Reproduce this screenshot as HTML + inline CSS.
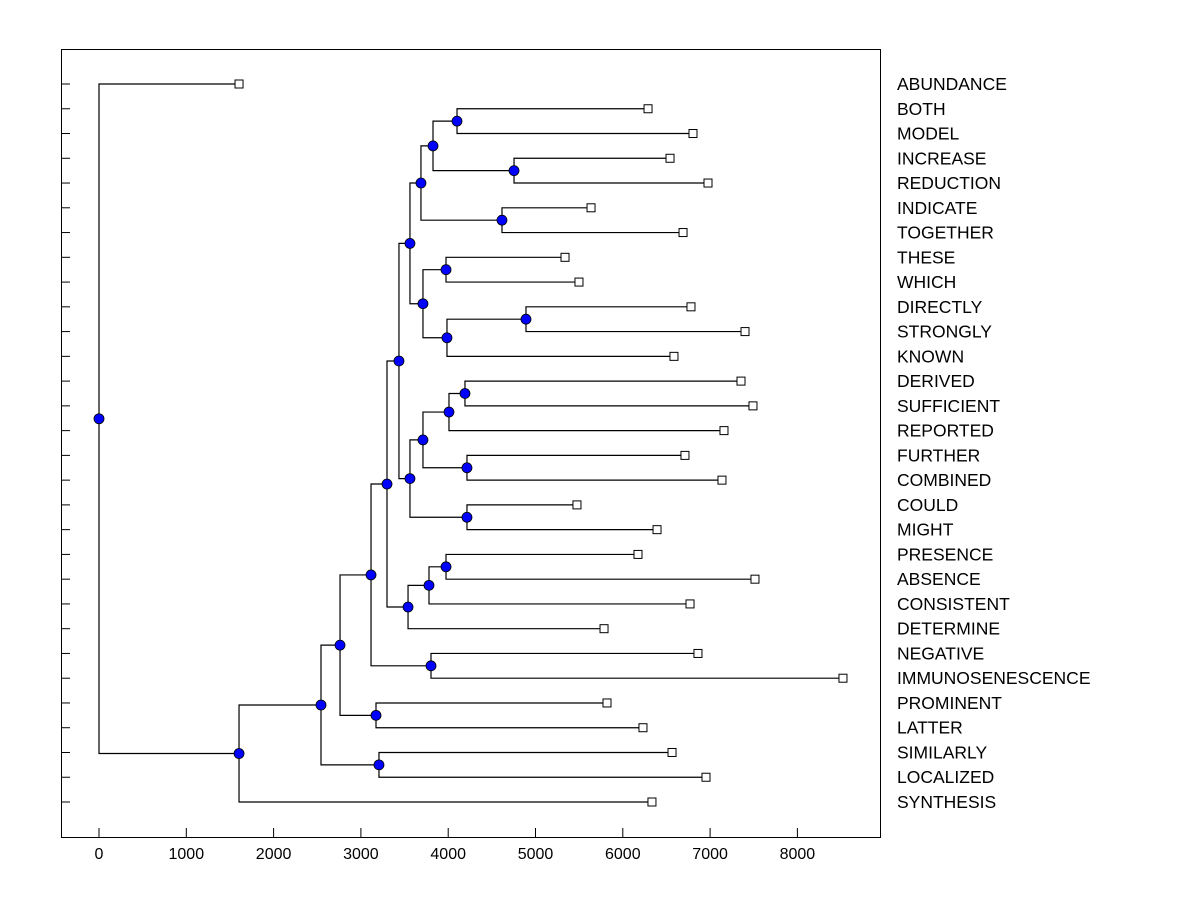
<!DOCTYPE html>
<html><head><meta charset="utf-8"><style>
html,body{margin:0;padding:0;background:#fff;}
svg text{font-family:"Liberation Sans",Arial,sans-serif;}
</style></head><body>
<svg id="chart" width="1200" height="900" viewBox="0 0 1200 900" xmlns="http://www.w3.org/2000/svg">
<rect x="0" y="0" width="1200" height="900" fill="#fff"/>
<rect x="61.5" y="49.5" width="819" height="788" fill="none" stroke="#000" stroke-width="1"/>
<g id="links"></g>
<g id="marks"></g>
<g id="axes"></g>
</svg>
<script>
const leaves = ["ABUNDANCE","BOTH","MODEL","INCREASE","REDUCTION","INDICATE","TOGETHER","THESE","WHICH","DIRECTLY","STRONGLY","KNOWN","DERIVED","SUFFICIENT","REPORTED","FURTHER","COMBINED","COULD","MIGHT","PRESENCE","ABSENCE","CONSISTENT","DETERMINE","NEGATIVE","IMMUNOSENESCENCE","PROMINENT","LATTER","SIMILARLY","LOCALIZED","SYNTHESIS"];
const leafValues = [1604,6289,6804,6541,6976,5636,6690,5338,5498,6781,7400,6586,7354,7491,7159,6712,7136,5475,6392,6174,7514,6770,5785,6861,8522,5819,6231,6564,6953,6334];
const mergeNames = ["S","T","Q","R","O","U","W","V","P","M","BB","Z","AA","X","Y","N","I","L","K","J","G","H","E","F","C","D","B","A","ROOT"];
const mergeLeft =  ["BOTH","INCREASE","S","INDICATE","Q","THESE","DIRECTLY","W","U","O","DERIVED","BB","FURTHER","Z","COULD","X","M","PRESENCE","L","K","I","NEGATIVE","G","PROMINENT","E","SIMILARLY","C","B","ABUNDANCE"];
const mergeRight = ["MODEL","REDUCTION","T","TOGETHER","R","WHICH","STRONGLY","KNOWN","V","P","SUFFICIENT","REPORTED","COMBINED","AA","MIGHT","Y","N","ABSENCE","CONSISTENT","DETERMINE","J","IMMUNOSENESCENCE","H","LATTER","F","LOCALIZED","D","SYNTHESIS","A"];
const mergeHeights = [4101,4754,3826,4616,3688,3975,4891,3986,3711,3562,4192,4009,4215,3711,4215,3562,3436,3975,3780,3540,3299,3803,3116,3173,2761,3207,2543,1604,0];
const xTicks = [0,1000,2000,3000,4000,5000,6000,7000,8000];

const NS="http://www.w3.org/2000/svg";
const xs = v => 99 + v*0.0873;
const ys = i => 84 + i*(718/29);
const links=document.getElementById('links'), marks=document.getElementById('marks'), axes=document.getElementById('axes');
function mk(tag, attrs, parent){const e=document.createElementNS(NS,tag);for(const k in attrs)e.setAttribute(k,attrs[k]);parent.appendChild(e);return e;}

const pos={};
leaves.forEach((n,i)=>{pos[n]={x:xs(leafValues[i]),y:ys(i)};});
mergeNames.forEach((n,i)=>{
  const a=pos[mergeLeft[i]], b=pos[mergeRight[i]];
  const x=xs(mergeHeights[i]);
  pos[n]={x:x,y:(a.y+b.y)/2};
  const p=mk('path',{d:`M${a.x},${a.y}H${x}V${b.y}H${b.x}`,fill:'none',stroke:'#000','stroke-width':1.2},links);
  
  
});
mergeNames.forEach(n=>{
  const c=mk('circle',{cx:pos[n].x,cy:pos[n].y,r:5,fill:'#0000ff',stroke:'#000','stroke-width':0.8},marks);
  
  
});
leaves.forEach((n,i)=>{
  const p=pos[n];
  const r=mk('rect',{x:p.x-4,y:p.y-4,width:8,height:8,fill:'#fff',stroke:'#000','stroke-width':1},marks);
  
  
  const t=mk('text',{x:897,y:p.y+6,'font-size':17.5,fill:'#000'},axes);
  t.textContent=n;
  
  
  const tk=mk('line',{x1:61,x2:70,y1:p.y,y2:p.y,stroke:'#000','stroke-width':1},axes);
  
  
});
xTicks.forEach(v=>{
  const x=xs(v);
  const l=mk('line',{x1:x,x2:x,y1:828,y2:837,stroke:'#000','stroke-width':1},axes);
  
  
  const t=mk('text',{x:x,y:859,'font-size':16,'text-anchor':'middle',fill:'#000'},axes);
  t.textContent=v;
  
  
});
</script>
</body></html>
